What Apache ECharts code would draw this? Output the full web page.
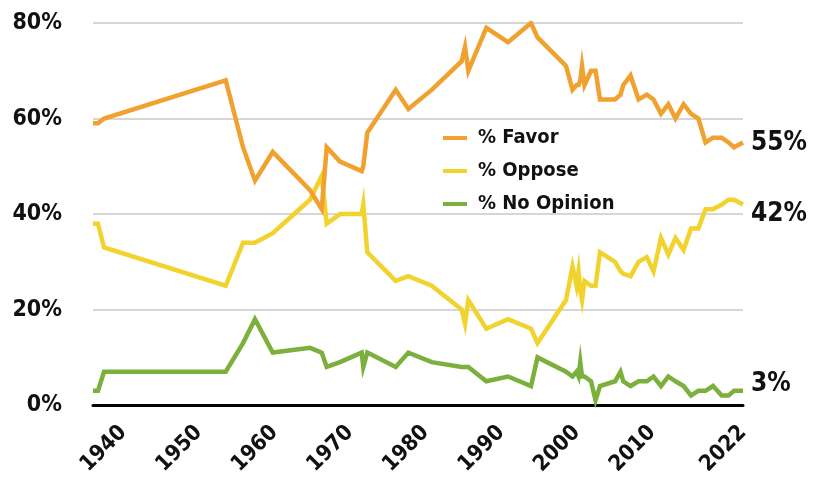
<!DOCTYPE html>
<html>
<head>
<meta charset="utf-8">
<script src="https://cdn.jsdelivr.net/npm/echarts@6/dist/echarts.min.js"></script>
<style>
html,body{margin:0;padding:0;background:#fff;}
#chart{width:817px;height:478px;}
</style>
</head>
<body>
<div id="chart"></div>
<script>
// Survey dates (decimal years)
var years = [1936.00,1936.66,1937.46,1953.56,1955.85,1957.43,1959.78,1964.71,1966.26,1966.92,
  1968.68,1971.55,1971.76,1972.29,1976.05,1977.72,1980.81,1984.78,1985.22,1985.66,
  1988.04,1990.91,1993.95,1994.81,1998.58,1999.44,1999.97,2000.24,2000.47,2000.70,
  2001.03,2001.89,2002.49,2003.08,2005.07,2005.79,2006.16,2007.12,2008.18,2009.27,
  2010.16,2011.15,2012.12,2013.07,2014.14,2015.12,2016.09,2017.04,2018.03,2019.18,
  2020.08,2020.81,2022.00];
var favor = [59,59,60,68,54,47,53,45,41,54,
  51,49,50,57,66,62,66,72,75,70,
  79,76,80,77,71,66,67,67,68,71,
  67,70,70,64,64,65,67,69,64,65,
  64,61,63,60,63,61,60,55,56,56,
  55,54,55];
var oppose = [38,38,33,25,34,34,36,43,48,38,
  40,40,42,32,26,27,25,20,17,22,
  16,18,16,13,22,29,25,28,24,22,
  26,25,25,32,30,28,27.5,27,30,31,
  28,35,31.5,35,32.5,37,37,41,41,42,
  43,43,42];
var noOpinion = [3,3,7,7,13,18,11,12,11,8,
  9,11,8,11,8,11,9,8,8,8,
  5,6,4,10,7,6,7,6,9,6,
  6,5,1,4,5,7,5,4,5,5,
  6,4,6,5,4,2,3,3,4,2,
  2,3,3];
var xTickLabels = [1940,1950,1960,1970,1980,1990,2000,2010,2022];
var seriesNames = ['% Favor','% Oppose','% No Opinion'];
var colors = ['#F0A12F','#F2D22D','#7AB03B'];

function pairs(vals){ return years.map(function(y,i){ return [y, vals[i]]; }); }

var FONT = '"DejaVu Sans Condensed","DejaVu Sans",sans-serif';
var W = 'bold';
var endOffsets = [[0,1],[0,10],[0,-7]];
var allVals = [favor, oppose, noOpinion];

var chart = echarts.init(document.getElementById('chart'));
chart.setOption({
  animation:false,
  color: colors,
  grid:{left:93, right:74, top:23, bottom:71, containLabel:false},
  legend:{
    orient:'vertical', left:438, top:122,
    itemWidth:24, itemHeight:4, itemGap:11, icon:'rect',
    textStyle:{fontFamily:FONT, fontWeight:W, fontSize:20, color:'#111', lineHeight:22, padding:[0,0,0,6]},
    data: seriesNames
  },
  xAxis:{
    type:'value', min:1936, max:2022,
    axisLine:{show:true, lineStyle:{color:'#000', width:3}},
    axisTick:{show:false},
    splitLine:{show:false},
    axisLabel:{
      customValues: xTickLabels,
      rotate:45, margin:24,
      fontFamily:FONT, fontWeight:W, fontSize:22, color:'#111',
      formatter:function(v){ return String(v); }
    }
  },
  yAxis:{
    type:'value', min:0, max:80, interval:20,
    axisLine:{show:false}, axisTick:{show:false},
    splitLine:{lineStyle:{color:'#c8c8c8', width:1.5}},
    axisLabel:{formatter:'{value}%', margin:31, fontFamily:FONT, fontWeight:W, fontSize:23, color:'#111'}
  },
  series: seriesNames.map(function(name, i){
    return {
      name:name, type:'line', data:pairs(allVals[i]),
      showSymbol:false, symbol:'none',
      lineStyle:{width:4.5, color:colors[i], join:'miter'},
      z: 3 - i,
      endLabel:{
        show:true, distance:8, offset:endOffsets[i],
        formatter:function(p){ return p.value[1] + '%'; },
        fontFamily:FONT, fontWeight:W, fontSize:26, color:'#111'
      }
    };
  })
});
</script>
</body>
</html>
